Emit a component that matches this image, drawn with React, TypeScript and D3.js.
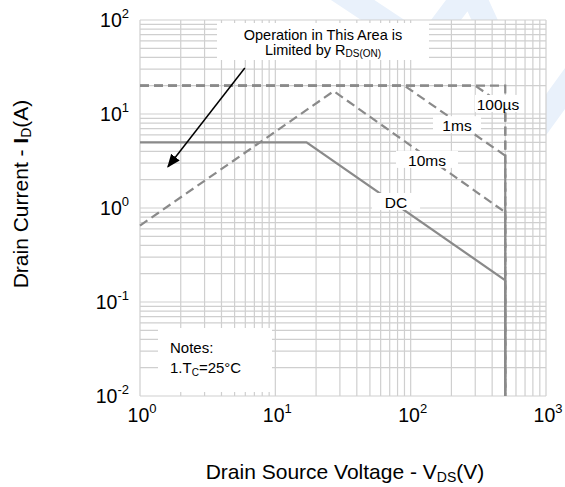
import * as d3 from 'd3';

// Safe operating area curves (V in volts, I in amps)
const limitV = [1, 500, 500];
const limitI = [20, 20, 0.01];
const us100V = [1, 300, 500, 500];
const us100I = [20, 20, 12, 0.01];
const ms1V = [1, 90, 500, 500];
const ms1I = [20, 20, 3.6, 0.01];
const ms10V = [1, 27, 500, 500];
const ms10I = [0.65, 17.5, 0.9, 0.01];
const dcV = [1, 17, 500, 500];
const dcI = [5, 5, 0.17, 0.01];

const xTickExp = [0, 1, 2, 3];
const yTickExp = [-2, -1, 0, 1, 2];

const W = 565;
const H = 487;
const margin = { top: 20, right: 19, bottom: 91, left: 140 };
const FONT = 'Liberation Sans, Arial, sans-serif';
const GRAY = '#8a8a8a';
const GRID = '#cfcfcf';

const x = d3.scaleLog().domain([1, 1000]).range([margin.left, W - margin.right]);
const y = d3.scaleLog().domain([0.01, 100]).range([H - margin.bottom, margin.top]);

function minorTicks(lo: number, hi: number) {
  const out: number[] = [];
  for (let e = lo; e < hi; e++) {
    for (let d = 1; d <= 9; d++) out.push(d * Math.pow(10, e));
  }
  out.push(Math.pow(10, hi));
  return out;
}

const line = d3.line<[number, number]>().x(d => x(d[0])).y(d => y(d[1]));
const pts = (vs: number[], is: number[]) => vs.map((v, i) => [v, is[i]] as [number, number]);

const curveLabels = [
  { text: '100µs', v: 442, i: 12.8, w: 46 },
  { text: '1ms', v: 220, i: 7.6, w: 48 },
  { text: '10ms', v: 132, i: 3.25, w: 62 },
  { text: 'DC', v: 78, i: 1.16, w: 48 },
];

export default function App() {
  const x0 = margin.left;
  const x1 = W - margin.right;
  const y0 = margin.top;
  const y1 = H - margin.bottom;
  const arrowFrom: [number, number] = [x(5.95), y(30.8)];
  const arrowTo: [number, number] = [x(1.61), y(2.75)];

  return (
    <div style={{ position: 'fixed', left: 0, top: 0 }}>
      <svg width={W} height={H} style={{ display: 'block', background: '#fff' }} fontFamily={FONT}>
        <defs>
          <marker id="arr" viewBox="0 0 10 10" refX="9" refY="5" markerWidth="9" markerHeight="9" orient="auto">
            <path d="M0,1 L10,5 L0,9 Z" fill="#000" />
          </marker>
        </defs>

        {/* faint watermark */}
        <polyline
          points="315,-25 425,48 470,-12 535,130 600,40"
          fill="none"
          stroke="#e9f1fb"
          strokeWidth={24}
          strokeLinejoin="miter"
        />

        <rect x={x0} y={y0} width={x1 - x0} height={y1 - y0} fill="#fff" />

        {/* grid */}
        <g stroke={GRID} strokeWidth={1.2}>
          {minorTicks(0, 3).map(v => (
            <line key={'v' + v} x1={x(v)} x2={x(v)} y1={y0} y2={y1} />
          ))}
          {minorTicks(-2, 2).map(v => (
            <line key={'h' + v} x1={x0} x2={x1} y1={y(v)} y2={y(v)} />
          ))}
        </g>

        {/* curves */}
        <g fill="none" stroke={GRAY} strokeWidth={2.2}>
          <path d={line(pts(limitV, limitI)) || ''} strokeDasharray="9,5" />
          <path d={line(pts(us100V, us100I)) || ''} strokeDasharray="9,5" />
          <path d={line(pts(ms1V, ms1I)) || ''} strokeDasharray="9,5" />
          <path d={line(pts(ms10V, ms10I)) || ''} strokeDasharray="9,5" />
          <path d={line(pts(dcV, dcI)) || ''} />
        </g>

        {/* curve labels */}
        {curveLabels.map(l => (
          <g key={l.text}>
            <rect x={x(l.v) - l.w / 2} y={y(l.i) - 9} width={l.w} height={17} fill="#fff" />
            <text x={x(l.v)} y={y(l.i) + 6} textAnchor="middle" fontSize={15.5} fill="#000">
              {l.text}
            </text>
          </g>
        ))}

        {/* annotation */}
        <rect x={217} y={23} width={212} height={37} fill="#fff" />
        <text x={323} y={40} textAnchor="middle" fontSize={14.5}>Operation in This Area is</text>
        <text x={323} y={55} textAnchor="middle" fontSize={14.5}>
          Limited by R<tspan fontSize={10} dy={2}>DS(ON)</tspan>
        </text>
        <line
          x1={arrowFrom[0]}
          y1={arrowFrom[1]}
          x2={arrowTo[0]}
          y2={arrowTo[1]}
          stroke="#000"
          strokeWidth={1.5}
          markerEnd="url(#arr)"
        />

        {/* notes */}
        <rect x={158} y={328} width={114} height={64} fill="#fff" />
        <text x={170} y={353} fontSize={15}>Notes:</text>
        <text x={170} y={373} fontSize={15}>
          1.T<tspan fontSize={10} dy={3}>C</tspan>
          <tspan dy={-3}>=25°C</tspan>
        </text>

        {/* axis tick labels */}
        {yTickExp.map(e => (
          <text key={'yt' + e} x={129} y={y(Math.pow(10, e)) + 7} textAnchor="end" fontSize={19.5}>
            10<tspan fontSize={13} dy={-9}>{e}</tspan>
          </text>
        ))}
        {xTickExp.map(e => (
          <text key={'xt' + e} x={x(Math.pow(10, e)) + 2} y={422} textAnchor="middle" fontSize={19.5}>
            10<tspan fontSize={13} dy={-9}>{e}</tspan>
          </text>
        ))}

        {/* axis titles */}
        <text x={345} y={479} textAnchor="middle" fontSize={21}>
          Drain Source Voltage - V<tspan fontSize={14} dy={3}>DS</tspan>
          <tspan dy={-3}>(V)</tspan>
        </text>
        <text transform="translate(28,194) rotate(-90)" textAnchor="middle" fontSize={21}>
          Drain Current - <tspan fontWeight="bold">I</tspan>
          <tspan fontSize={14} dy={3}>D</tspan>
          <tspan dy={-3}>(A)</tspan>
        </text>
      </svg>
    </div>
  );
}
